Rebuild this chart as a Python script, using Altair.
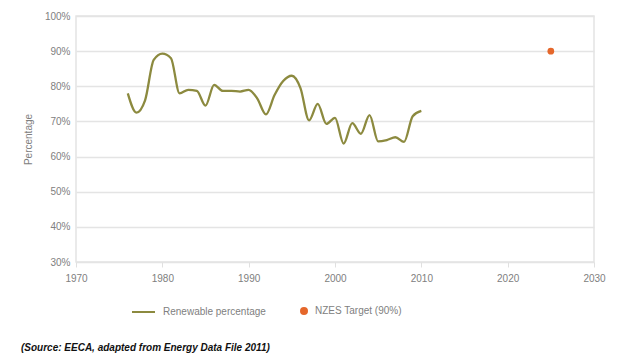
import altair as alt
import pandas as pd

years = list(range(1976, 2011))
renewable = [78, 72.5, 76, 87.5, 89.3, 88, 78, 79, 78.7, 74.5,
             80.4, 78.7, 78.7, 78.5, 79, 76.5, 72, 77.5, 81.5, 83,
             79.5, 70.3, 75, 69.3, 71, 63.7, 69.5, 66.5, 71.8, 64.3,
             64.7, 65.5, 64.2, 71.5, 73]
target_year = [2025]
target_value = [90]

S1 = "Renewable percentage"
S2 = "NZES Target (90%)"
OLIVE = "#8c8a3f"
ORANGE = "#e5672b"
GREY = "#808080"
FONT = "Liberation Sans"

df_line = pd.DataFrame({"year": years, "value": renewable, "series": S1})
df_pt = pd.DataFrame({"year": target_year, "value": target_value, "series": S2})

IS_PT = "datum.index === 1"

color = alt.Color(
    "series:N",
    scale=alt.Scale(domain=[S1, S2], range=[OLIVE, ORANGE]),
    legend=alt.Legend(
        title=None, orient="none", direction="horizontal",
        legendX=71, legendY=290,
        labelFont=FONT, labelFontSize=10, labelColor=GREY,
        columnPadding=31, labelOffset=6, symbolSize=36,
        symbolType=alt.ExprRef(IS_PT + " ? 'circle' : 'M-6.67,0H1'"),
        symbolFillColor=alt.ExprRef(IS_PT + " ? '" + ORANGE + "' : 'transparent'"),
        symbolStrokeColor=alt.ExprRef(IS_PT + " ? 'transparent' : '" + OLIVE + "'"),
        symbolStrokeWidth=2, symbolOpacity=1,
    ),
)

x = alt.X("year:Q", scale=alt.Scale(domain=[1970, 2030], nice=False),
          axis=alt.Axis(title=None, values=list(range(1970, 2031, 10)), format="d",
                        grid=False, domain=False, ticks=True, tickColor="#e0e0e0",
                        tickSize=5, labelPadding=6, labelColor=GREY, labelFlush=False,
                        labelFont=FONT, labelFontSize=10))
y = alt.Y("value:Q", scale=alt.Scale(domain=[30, 100], nice=False),
          axis=alt.Axis(title="Percentage", values=list(range(30, 101, 10)),
                        labelExpr="datum.value + '%'", ticks=False, domain=False,
                        gridColor="#e4e4e4", gridWidth=1.5, labelPadding=6,
                        labelColor=GREY, labelFont=FONT, labelFontSize=10,
                        titleColor=GREY, titleFont=FONT,
                        titleFontSize=10, titleFontWeight="normal", titlePadding=11))

line = alt.Chart(df_line).mark_line(interpolate="monotone", strokeWidth=2.3).encode(
    x=x, y=y, color=color)
pt = alt.Chart(df_pt).mark_circle(size=45, opacity=1).encode(x=x, y=y, color=color)

chart = alt.layer(line, pt).properties(
    width=518, height=246,
    title=alt.Title("(Source: EECA, adapted from Energy Data File 2011)",
                    orient="bottom", anchor="start", frame="group", font=FONT,
                    fontSize=10, fontWeight="bold", fontStyle="italic",
                    color="#111111", offset=25, dx=-55),
    padding={"left": 13, "top": 3, "right": 5, "bottom": 2},
).configure_view(stroke="#e4e4e4", strokeWidth=1.5)

chart.save("out.html", embed_options={"renderer": "svg", "actions": False})
